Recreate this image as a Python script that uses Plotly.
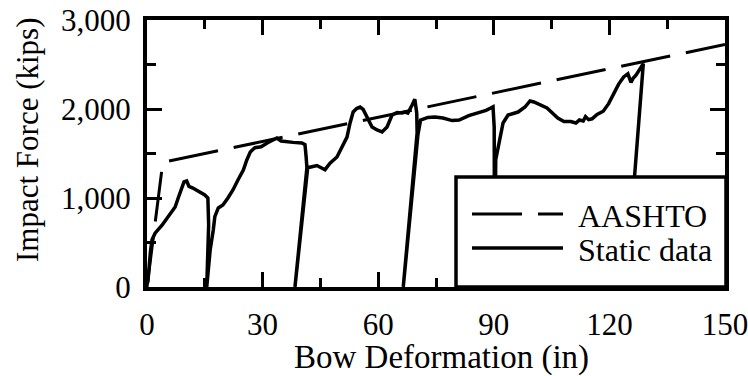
import plotly.graph_objects as go

# ---- data ----
aashto_x = [0, 4.1, 150]
aashto_y = [0, 1400, 2725]

static_x = [0.2, 0.5, 0.9, 1.3, 2.1, 3.9, 5.2, 6.5, 7.3, 8.1, 9.0, 9.6, 10.3, 10.9, 11.9, 13.8, 15.0, 15.8, 16.0, 15.5,
            16.4, 17.2, 17.6, 18.5, 19.7, 21.0, 22.3, 23.6, 25.0, 25.9, 26.8, 28.0, 29.6, 31.2, 32.6, 33.7, 34.8, 36.3,
            37.9, 40.2, 41.0, 41.3, 41.5, 38.4,
            41.7, 42.5, 44.1, 46.2, 47.5, 49.3, 50.6, 51.9, 52.7, 53.5, 54.4, 55.3, 56.1, 57.4, 58.4, 59.7, 61.0, 62.3,
            63.6, 64.9, 66.2, 67.0, 67.7, 68.8, 69.5, 70.0, 70.1, 66.5,
            70.3, 71.0, 72.9, 74.7, 76.8, 79.2, 81.0, 83.5, 85.9, 88.0, 89.2, 89.8, 90.1, 90.2,
            90.5, 91.6, 92.4, 93.7, 96.3, 98.1, 99.4, 100.4, 102.0, 103.8, 105.2, 106.6, 108.2, 110.0, 111.3, 112.2,
            113.2, 113.8, 114.6, 115.5, 116.8, 118.4, 119.8, 121.0, 122.4, 123.7, 124.8, 125.6, 126.2, 126.9, 128.0,
            128.8, 124.3]
static_y = [50, 250, 400, 530, 605, 695, 775, 843, 899, 1000, 1112, 1180, 1191, 1130, 1112, 1067, 1034, 1000, 700, 0,
            420, 640, 790, 888, 921, 1000, 1090, 1202, 1315, 1427, 1517, 1565, 1575, 1618, 1650, 1674, 1640, 1629,
            1625, 1618, 1600, 1461, 1340, 0,
            1340, 1348, 1365, 1318, 1390, 1461, 1573, 1685, 1843, 1966, 2005, 2022, 1995, 1876, 1798, 1764, 1742, 1798,
            1933, 1960, 1955, 1966, 1955, 2045, 2110, 1955, 1730, 0,
            1708, 1876, 1905, 1910, 1899, 1870, 1876, 1925, 1955, 1985, 2011, 2025, 1800, 0,
            1430, 1685, 1843, 1933, 1966, 2022, 2090, 2079, 2045, 2011, 1955, 1899, 1860, 1860, 1843, 1876,
            1865, 1915, 1880, 1890, 1940, 1975, 2060, 2170, 2280, 2360, 2395, 2300, 2348, 2380, 2465,
            2510, 0]
assert len(static_x) == len(static_y)

x_tick_vals = [0, 30, 60, 90, 120, 150]
x_tick_text = ["0", "30", "60", "90", "120", "150"]
y_tick_vals = [0, 1000, 2000, 3000]
y_tick_text = ["0", "1,000", "2,000", "3,000"]
legend_names = ["AASHTO", "Static data"]
x_title = "Bow Deformation (in)"
y_title = "Impact Force (kips)"

FONT = "Liberation Serif, Times New Roman, serif"
W, H = 748, 376
ML, MR, MT, MB = 147, 23, 20, 89
PW, PH = W - ML - MR, H - MT - MB


def px_x(p):
    return (p - ML) / PW


def px_y(p):
    return (H - MB - p) / PH


fig = go.Figure()
fig.add_trace(go.Scatter(x=aashto_x, y=aashto_y, mode="lines", name=legend_names[0],
                         line=dict(color="black", width=3, dash="50px,16px"), showlegend=False))
fig.add_trace(go.Scatter(x=static_x, y=static_y, mode="lines", name=legend_names[1],
                         line=dict(color="black", width=3.5), showlegend=False))

axis_common = dict(showline=True, linecolor="black", linewidth=4, mirror="ticks",
                   ticks="inside", ticklen=15, tickwidth=3, tickcolor="black",
                   showgrid=False, zeroline=False, ticklabeloverflow="allow", automargin=False)

fig.update_xaxes(range=[0, 150], tickvals=x_tick_vals, ticktext=x_tick_text,
                 minor=dict(dtick=15, ticklen=9, tickwidth=3, ticks="inside", tickcolor="black"),
                 ticklabelstandoff=7, tickfont=dict(family=FONT, size=31, color="black"), **axis_common)
fig.update_yaxes(range=[0, 3000], tickvals=y_tick_vals, ticktext=y_tick_text,
                 minor=dict(dtick=500, ticklen=9, tickwidth=3, ticks="inside", tickcolor="black"),
                 ticklabelstandoff=6, tickfont=dict(family=FONT, size=31, color="black"), **axis_common)

shapes = []
# legend box
shapes.append(dict(type="rect", xref="paper", yref="paper", x0=px_x(456), x1=px_x(726), y0=px_y(287), y1=px_y(177),
                   fillcolor="white", line=dict(color="black", width=3.5), layer="above"))
shapes.append(dict(type="line", xref="paper", yref="paper", x0=px_x(472), x1=px_x(563), y0=px_y(214), y1=px_y(214),
                   line=dict(color="black", width=3, dash="50px,16px"), layer="above"))
shapes.append(dict(type="line", xref="paper", yref="paper", x0=px_x(472), x1=px_x(563), y0=px_y(248), y1=px_y(248),
                   line=dict(color="black", width=3.5), layer="above"))

annotations = [
    dict(text=legend_names[0], xref="paper", yref="paper", x=px_x(576), y=px_y(216), xanchor="left", yanchor="middle",
         showarrow=False, font=dict(family=FONT, size=32, color="black")),
    dict(text=legend_names[1], xref="paper", yref="paper", x=px_x(576), y=px_y(250), xanchor="left", yanchor="middle",
         showarrow=False, font=dict(family=FONT, size=32, color="black")),
    dict(text=x_title, xref="paper", yref="paper", x=px_x(441), y=px_y(357), xanchor="center", yanchor="middle",
         showarrow=False, font=dict(family=FONT, size=33, color="black")),
    dict(text=y_title, xref="paper", yref="paper", x=px_x(27), y=px_y(140), xanchor="center", yanchor="middle",
         textangle=-90, showarrow=False, font=dict(family=FONT, size=31, color="black")),
]

fig.update_layout(width=W, height=H, margin=dict(l=ML, r=MR, t=MT, b=MB, autoexpand=False),
                  paper_bgcolor="white", plot_bgcolor="white", showlegend=False,
                  shapes=shapes, annotations=annotations)

fig.write_html("out.html",
               post_script="document.body.style.margin='0';document.body.style.overflow='hidden';")
